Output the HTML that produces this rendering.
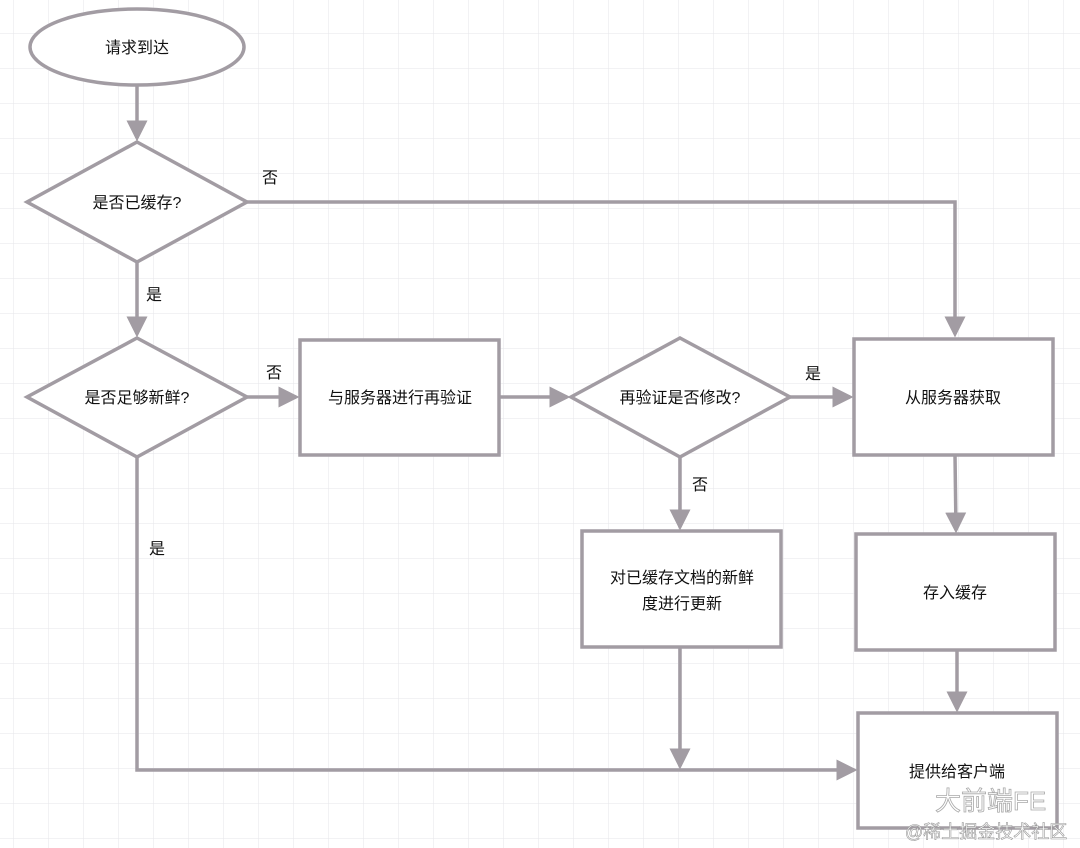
<!DOCTYPE html>
<html><head><meta charset="utf-8"><style>
html,body{margin:0;padding:0;background:#fff;}
svg{display:block;}
text{font-family:"Liberation Sans","Noto Sans CJK SC",sans-serif;font-size:16px;fill:#111;}
</style></head><body>
<svg width="1080" height="848" viewBox="0 0 1080 848" xmlns="http://www.w3.org/2000/svg">
<defs>
<pattern id="g" x="13" y="-2" width="35" height="35" patternUnits="userSpaceOnUse">
<path d="M0 0H35M0 0V35" stroke="#e6e6ea" stroke-width="1" fill="none"/>
</pattern>
<marker id="a" markerWidth="6" markerHeight="6" refX="5" refY="3" orient="auto" markerUnits="strokeWidth">
<path d="M0,0 L6,3 L0,6 z" fill="#a29ca3"/>
</marker>
</defs>
<rect width="1080" height="848" fill="url(#g)"/>
<g stroke="#a29ca3" stroke-width="3.5" fill="#fff">
<ellipse cx="137" cy="47" rx="107" ry="38"/>
<polygon points="137,142 247,202 137,262 27,202"/>
<polygon points="137,338 247,397 137,457 27,397"/>
<rect x="300" y="340" width="199" height="115"/>
<polygon points="680,338 790,397 680,457 571,397"/>
<rect x="854" y="339" width="199" height="116"/>
<rect x="582" y="531" width="199" height="116"/>
<rect x="856" y="534" width="199" height="116"/>
<rect x="858" y="713" width="199" height="115"/>
</g>
<g stroke="#a29ca3" stroke-width="3.5" fill="none">
<path d="M137,85 V138" marker-end="url(#a)"/>
<path d="M247,202 H955 V334" marker-end="url(#a)"/>
<path d="M137,262 V334" marker-end="url(#a)"/>
<path d="M247,397 H296" marker-end="url(#a)"/>
<path d="M499,397 H567" marker-end="url(#a)"/>
<path d="M790,397 H850" marker-end="url(#a)"/>
<path d="M680,457 V527" marker-end="url(#a)"/>
<path d="M680,647 V766" marker-end="url(#a)"/>
<path d="M955,455 L956,530" marker-end="url(#a)"/>
<path d="M957,650 V709" marker-end="url(#a)"/>
<path d="M137,457 V770 H854" marker-end="url(#a)"/>
</g>
<g text-anchor="middle">
<text x="137" y="53">请求到达</text>
<text x="137" y="208">是否已缓存?</text>
<text x="137" y="403">是否足够新鲜?</text>
<text x="400" y="403">与服务器进行再验证</text>
<text x="680" y="403">再验证是否修改?</text>
<text x="953" y="403">从服务器获取</text>
<text x="682" y="583">对已缓存文档的新鲜</text>
<text x="682" y="609">度进行更新</text>
<text x="955" y="598">存入缓存</text>
<text x="957" y="777">提供给客户端</text>
<text x="270" y="183">否</text>
<text x="154" y="300">是</text>
<text x="274" y="378">否</text>
<text x="813" y="379">是</text>
<text x="700" y="490">否</text>
<text x="157" y="554">是</text>
</g>
<text x="935" y="810" style="font-size:26px;fill:#fff;stroke:#aaa;stroke-width:0.8">大前端FE</text>
<text x="905" y="838" style="font-size:18px;fill:#fff;stroke:#999;stroke-width:0.6">@稀土掘金技术社区</text>
</svg>
</body></html>
